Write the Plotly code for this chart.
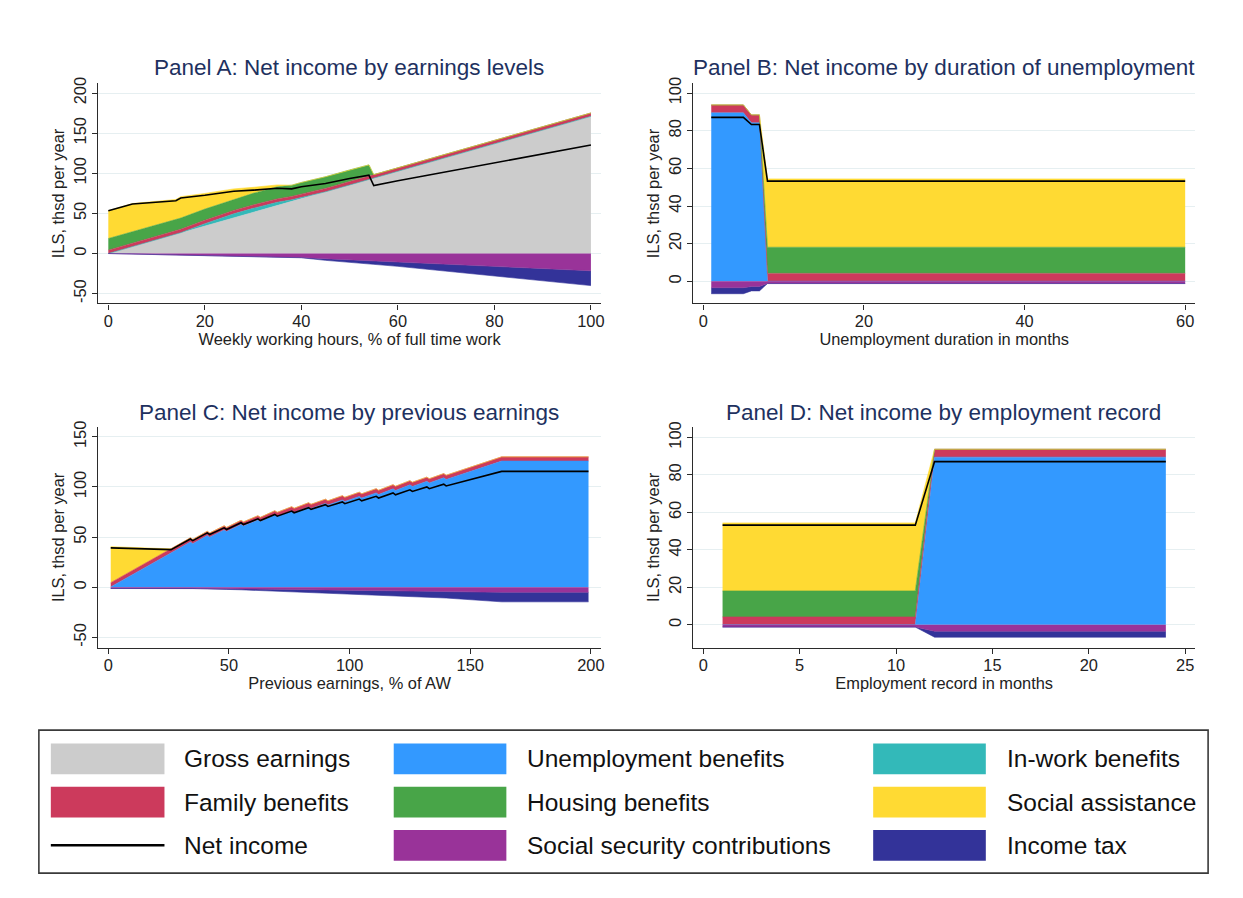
import plotly.graph_objects as go

W, H = 1243, 898
FONT = "Liberation Sans, Arial, sans-serif"

# ---------------- Data ----------------
# Panel A: by weekly working hours (% of full time)
a_hours = [0, 5, 14, 15, 20, 26, 30, 35, 38, 40, 45, 50, 54, 55, 60, 70, 80, 90, 100]
a_gross = [0, 8.6, 23.9, 25.7, 34.2, 44.5, 51.3, 59.9, 65.0, 68.4, 77.0, 85.5, 92.3, 94.1, 102.6, 119.7, 136.8, 153.9, 171.0]
a_inwork = [0, 0, 0, 0.3, 3, 5, 5, 4, 2, 1.5, 0, 0, 0, 0, 0, 0, 0, 0, 0]
a_family = [4.2, 4.2, 4.2, 4.2, 4.2, 4.2, 4.2, 4.2, 4.2, 4.2, 4.2, 4.2, 4.2, 4.2, 4.2, 4.2, 4.2, 4.2, 4.2]
a_housing = [14.5, 14.5, 14, 14, 14, 14, 14.5, 15, 14, 14.5, 14.5, 14.5, 14, 0, 0, 0, 0, 0, 0]
a_social = [34.7, 35.0, 25.3, 26.7, 19.5, 12.9, 7.5, 2.4, 0, 0, 0, 0, 0, 0, 0, 0, 0, 0, 0]
a_ssc = [0, -0.6, -1.6, -1.7, -2.3, -3.0, -3.5, -4.2, -4.6, -5.0, -6.5, -7.8, -9.2, -9.5, -11, -13.5, -16, -18.8, -21.5]
a_tax = [0, 0, 0, 0, 0, 0, 0, 0, 0, -0.3, -2.0, -2.8, -3.7, -4.0, -5.0, -8.5, -11.5, -15, -18.5]
a_net = [53.4, 61.7, 65.8, 69.2, 72.6, 77.6, 79.0, 81.3, 80.6, 83.3, 87.2, 93.6, 97.6, 84.8, 90.8, 101.9, 113.5, 124.3, 135.2]
a_yticks = [-50, 0, 50, 100, 150, 200]
a_ylabels = ["-50", "0", "50", "100", "150", "200"]

# Panel B: by duration of unemployment (months)
b_months = [1, 5, 6, 7, 8, 60]
b_unemp = [89.5, 89.5, 84.2, 84.2, 0, 0]
b_family = [4.2, 4.2, 4.2, 4.2, 4.2, 4.2]
b_housing = [0, 0, 0, 0, 13.9, 13.9]
b_social = [0, 0, 0, 0, 36.3, 36.3]
b_ssc = [-3.4, -3.4, -2.8, -2.8, -1.2, -1.2]
b_tax = [-3.2, -3.2, -2.3, -2.3, 0, 0]
b_net = [87.1, 87.1, 83.3, 83.3, 53.2, 53.2]

# Panel C: by previous earnings (% of AW)
c_earn = [1, 25, 26, 34, 35, 41, 42, 48, 49, 55, 56, 62, 63, 69, 70, 76, 77, 83, 84, 90, 91,
          97, 98, 104, 105, 111, 112, 118, 119, 125, 126, 132, 133, 139, 140, 163, 199]
c_unemp = [0.4, 32.8, 34.1, 45.1, 43.5, 51.6, 50.0, 57.1, 55.5, 62.6, 61.0, 67.1, 65.5, 72.1, 70.5,
           76.1, 74.5, 80.1, 78.5, 83.6, 82.0, 87.1, 85.5, 90.6, 89.0, 94.1, 92.5, 98.1, 96.5,
           102.1, 100.5, 105.6, 104.0, 109.1, 107.5, 125.8, 125.8]
c_family = [4.2, 4.2, 4.2, 4.2, 4.2, 4.2, 4.2, 4.2, 4.2, 4.2, 4.2, 4.2, 4.2, 4.2, 4.2, 4.2, 4.2,
            4.2, 4.2, 4.2, 4.2, 4.2, 4.2, 4.2, 4.2, 4.2, 4.2, 4.2, 4.2, 4.2, 4.2, 4.2, 4.2, 4.2,
            4.2, 4.2, 4.2]
c_social = [35.9, 1.6, 0, 0, 0, 0, 0, 0, 0, 0, 0, 0, 0, 0, 0, 0, 0, 0, 0, 0, 0, 0, 0, 0, 0, 0,
            0, 0, 0, 0, 0, 0, 0, 0, 0, 0, 0]
c_ssc = [-1.2, -1.2, -0.8, -1.0, -1.0, -1.2, -1.2, -1.4, -1.4, -1.6, -1.6, -1.8, -1.8, -2.0, -2.0,
         -2.2, -2.2, -2.4, -2.4, -2.6, -2.6, -2.8, -2.9, -3.1, -3.1, -3.3, -3.3, -3.5, -3.6, -3.8,
         -3.8, -4.0, -4.0, -4.2, -4.3, -5.0, -5.0]
c_tax = [0, 0, 0, -0.2, -0.2, -0.4, -0.4, -0.6, -0.7, -0.9, -1.0, -1.3, -1.4, -1.7, -1.8, -2.1,
         -2.2, -2.5, -2.6, -2.9, -3.0, -3.4, -3.5, -3.8, -3.9, -4.3, -4.4, -4.8, -4.9, -5.3, -5.4,
         -5.8, -5.9, -6.3, -6.4, -9.5, -9.5]
c_net = [39.3, 37.4, 37.5, 48.1, 46.5, 54.2, 52.6, 59.3, 57.6, 64.3, 62.6, 68.2, 66.5, 72.6, 70.9,
         76.0, 74.3, 79.4, 77.7, 82.3, 80.6, 85.1, 83.3, 87.9, 86.2, 90.7, 89.0, 94.0, 92.2, 97.2,
         95.5, 100.0, 98.3, 102.8, 101.0, 115.5, 115.5]
c_yticks = [-50, 0, 50, 100, 150]
c_ylabels = ["-50", "0", "50", "100", "150"]

# Panel D: by employment record (months)
d_months = [1, 11, 12, 24]
d_unemp = [0, 0, 89.5, 89.5]
d_family = [4.2, 4.2, 4.2, 4.2]
d_housing = [13.9, 13.9, 0, 0]
d_social = [36.3, 36.3, 0, 0]
d_ssc = [-1.2, -1.2, -3.4, -3.4]
d_tax = [0, 0, -3.2, -3.2]
d_net = [53.2, 53.2, 87.1, 87.1]

# ---------------- Styles ----------------
COL = {
    "Gross earnings": "#cccccc",
    "Unemployment benefits": "#3399ff",
    "In-work benefits": "#33b9b9",
    "Family benefits": "#cc3a5c",
    "Housing benefits": "#48a548",
    "Social assistance": "#ffda33",
    "Social security contributions": "#993399",
    "Income tax": "#333399",
}
TXT = "#222222"
TITLE_COL = "#1e3160"
GRID = "#e6eff1"
AXC = "#2b2b2b"
TICK_SIZE = 16.4

fig = go.Figure()


def add_panel(idx, x, pos, neg, net):
    xa = "x" if idx == 1 else f"x{idx}"
    ya = "y" if idx == 1 else f"y{idx}"
    for name, vals in pos:
        fig.add_trace(go.Scatter(x=x, y=vals, name=name, mode="lines", stackgroup=f"pos{idx}",
                                 line=dict(width=0.6, color=COL[name]), fillcolor=COL[name],
                                 xaxis=xa, yaxis=ya, showlegend=False))
    for name, vals in neg:
        fig.add_trace(go.Scatter(x=x, y=vals, name=name, mode="lines", stackgroup=f"neg{idx}",
                                 line=dict(width=0.6, color=COL[name]), fillcolor=COL[name],
                                 xaxis=xa, yaxis=ya, showlegend=False))
    fig.add_trace(go.Scatter(x=x, y=net, name="Net income", mode="lines",
                             line=dict(width=1.6, color="black"),
                             xaxis=xa, yaxis=ya, showlegend=False))


add_panel(1, a_hours,
          [("Gross earnings", a_gross), ("In-work benefits", a_inwork), ("Family benefits", a_family),
           ("Housing benefits", a_housing), ("Social assistance", a_social)],
          [("Social security contributions", a_ssc), ("Income tax", a_tax)], a_net)
add_panel(2, b_months,
          [("Unemployment benefits", b_unemp), ("Family benefits", b_family),
           ("Housing benefits", b_housing), ("Social assistance", b_social)],
          [("Social security contributions", b_ssc), ("Income tax", b_tax)], b_net)
add_panel(3, c_earn,
          [("Unemployment benefits", c_unemp), ("Family benefits", c_family),
           ("Social assistance", c_social)],
          [("Social security contributions", c_ssc), ("Income tax", c_tax)], c_net)
add_panel(4, d_months,
          [("Unemployment benefits", d_unemp), ("Family benefits", d_family),
           ("Housing benefits", d_housing), ("Social assistance", d_social)],
          [("Social security contributions", d_ssc), ("Income tax", d_tax)], d_net)


def px(p):
    return p / W


def py(p):
    return 1 - p / H


def xax(dom, anchor, rng, dtick, title):
    return dict(domain=dom, anchor=anchor, range=rng, tickmode="linear", tick0=0, dtick=dtick,
                showgrid=False, zeroline=False, showline=True, linecolor=AXC, linewidth=1.2,
                ticks="outside", ticklen=5, tickcolor=AXC, tickwidth=1.2, ticklabelstandoff=-2,
                tickfont=dict(size=TICK_SIZE, color=TXT, family=FONT),
                title=dict(text=title, font=dict(size=TICK_SIZE, color=TXT, family=FONT), standoff=0))


def yax(dom, anchor, rng, dtick, tickvals=None, ticktext=None):
    d = dict(domain=dom, anchor=anchor, range=rng, tickmode="linear", tick0=0, dtick=dtick,
             showgrid=True, gridcolor=GRID, gridwidth=1, zeroline=False,
             showline=True, linecolor=AXC, linewidth=1.2,
             ticks="outside", ticklen=5, tickcolor=AXC, tickwidth=1.2, tickangle=-90,
             tickfont=dict(size=TICK_SIZE, color=TXT, family=FONT),
             title=dict(text="ILS, thsd per year", font=dict(size=TICK_SIZE, color=TXT, family=FONT),
                        standoff=1))
    if tickvals is not None:
        d.update(tickmode="array", tickvals=tickvals, ticktext=ticktext)
    return d


top_dom = [py(299.5), py(78)]
bot_dom = [py(646), py(424)]
left_dom = [px(98.5), px(603)]
right_dom = [px(695.5), px(1199)]

fig.update_layout(
    width=W, height=H, margin=dict(l=0, r=0, t=0, b=0),
    paper_bgcolor="white", plot_bgcolor="white", showlegend=False,
    font=dict(family=FONT, color=TXT),
    xaxis=xax(left_dom, "y", [-2.1, 102.1], 20, "Weekly working hours, % of full time work"),
    yaxis=yax(top_dom, "x", [-62.3, 212], 50, a_yticks, a_ylabels),
    xaxis2=xax(right_dom, "y2", [-1.24, 61.24], 20, "Unemployment duration in months"),
    yaxis2=yax(top_dom, "x2", [-11.8, 105.1], 20),
    xaxis3=xax(left_dom, "y3", [-4.2, 204.2], 50, "Previous earnings, % of AW"),
    yaxis3=yax(bot_dom, "x3", [-60.2, 159.6], 50, c_yticks, c_ylabels),
    xaxis4=xax(right_dom, "y4", [-0.52, 25.52], 5, "Employment record in months"),
    yaxis4=yax(bot_dom, "x4", [-12.2, 105.5], 20),
)

# Panel titles
titles = [("Panel A: Net income by earnings levels", 350.5, 62),
          ("Panel B: Net income by duration of unemployment", 947, 62),
          ("Panel C: Net income by previous earnings", 350.5, 409),
          ("Panel D: Net income by employment record", 947, 409)]
annotations = []
for t, cx, cy in titles:
    annotations.append(dict(text=t, x=px(cx), y=py(cy), xref="paper", yref="paper",
                            xanchor="center", yanchor="middle", showarrow=False,
                            font=dict(size=22.5, color=TITLE_COL, family=FONT)))

# Manual legend (large swatches as in the original)
shapes = [dict(type="rect", xref="paper", yref="paper", x0=px(39), x1=px(1212), y0=py(873), y1=py(729),
               line=dict(color="#3a3a3a", width=1.6), fillcolor="rgba(0,0,0,0)")]
legend_items = [
    ("Gross earnings", "box", 0, 0), ("Unemployment benefits", "box", 1, 0), ("In-work benefits", "box", 2, 0),
    ("Family benefits", "box", 0, 1), ("Housing benefits", "box", 1, 1), ("Social assistance", "box", 2, 1),
    ("Net income", "line", 0, 2), ("Social security contributions", "box", 1, 2), ("Income tax", "box", 2, 2),
]
sw_x = [(51, 165), (395, 508), (876, 989)]
txt_x = [183, 527, 1008]
row_c = [758, 801.5, 845]
for name, kind, c, r in legend_items:
    x0, x1 = sw_x[c]
    yc = row_c[r]
    if kind == "box":
        shapes.append(dict(type="rect", xref="paper", yref="paper", x0=px(x0), x1=px(x1),
                           y0=py(yc + 15.5), y1=py(yc - 15.5), line=dict(width=0),
                           fillcolor=COL[name]))
    else:
        shapes.append(dict(type="line", xref="paper", yref="paper", x0=px(x0), x1=px(x1),
                           y0=py(yc), y1=py(yc), line=dict(color="black", width=2.5)))
    annotations.append(dict(text=name, x=px(txt_x[c]), y=py(yc), xref="paper", yref="paper",
                            xanchor="left", yanchor="middle", showarrow=False,
                            font=dict(size=24.5, color="#111111", family=FONT)))

fig.update_layout(annotations=annotations, shapes=shapes)

fig.write_html("out.html")
